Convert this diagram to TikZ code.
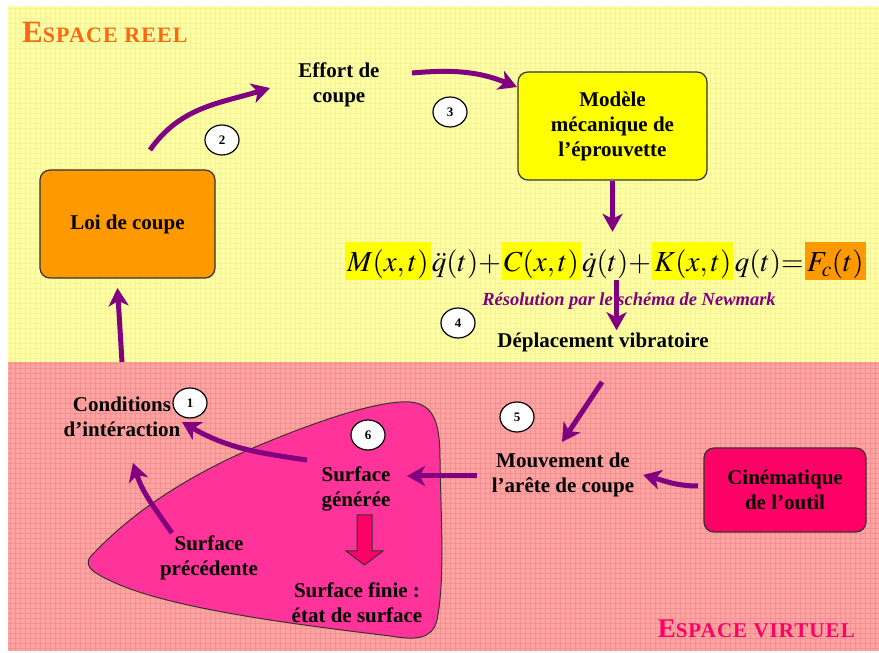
\documentclass[tikz,border=0pt]{standalone}
\usepackage{mathptmx}
\usepackage[no-math]{fontspec}
\setmainfont{Liberation Serif}
\newfontfamily\titlefont[LetterSpace=5]{Liberation Serif}
\usetikzlibrary{arrows.meta}
\usetikzlibrary{calc, shapes.geometric}
\definecolor{bgyellow}{HTML}{FFFFA6}
\definecolor{gridyellow}{HTML}{F4F496}
\definecolor{bgpink}{HTML}{FFA3A3}
\definecolor{gridpink}{HTML}{F28F8F}
\definecolor{arrowpurple}{HTML}{800080}
\definecolor{loiorange}{HTML}{FF9900}
\definecolor{modyellow}{HTML}{FFFF00}
\definecolor{cinepink}{HTML}{FF0066}
\definecolor{blobpink}{HTML}{FF3399}
\definecolor{boxborder}{HTML}{333333}
\definecolor{titleorange}{HTML}{FF6611}
\tikzset{
	myarrow/.style={draw=arrowpurple, line width=5pt, -{Stealth[length=18pt, width=20pt, inset=5pt]}},
	lbl/.style={font=\fontsize{21}{25}\selectfont\bfseries, align=center, inner sep=2pt},
	mybox/.style={lbl, draw=boxborder, line width=1.2pt, rounded corners=10pt},
	num/.style={ellipse, draw=black, fill=white, line width=1.2pt, minimum width=34pt, minimum height=30pt, inner sep=0pt, font=\fontsize{13}{13}\selectfont\bfseries},
	eqpart/.style={inner xsep=1pt, inner ysep=0pt, text height=30pt, text depth=8pt, font=\fontsize{29}{30}\selectfont, anchor=base west,
		execute at begin node={\medmuskip=0mu\relax\thickmuskip=0mu\relax}},
	eqhl/.style={eqpart, inner xsep=2pt, fill=#1}
}

\begin{document}
\begin{tikzpicture}[x=1pt, y=1pt]
	\useasboundingbox (0,0) rectangle (879,653);
	% espace reel / espace virtuel
	\fill[bgyellow] (8,291) rectangle (879,647);
	\draw[gridyellow, line width=0.4pt, step=5pt] (8,291) grid (879,647);
	\fill[bgpink] (8,2) rectangle (879,291);
	\draw[gridpink, line width=0.4pt, step=5pt] (8,2) grid (879,291);
	\node[anchor=base west, inner sep=0pt, text=titleorange] (treel) at (22,610)
		{\titlefont\bfseries\fontsize{31}{31}\selectfont E\fontsize{22}{22}\selectfont SPACE REEL};
	\node[anchor=base east, inner sep=0pt, text=cinepink] (tvirt) at (855,15)
		{\titlefont\bfseries\fontsize{27}{27}\selectfont E\fontsize{21}{21}\selectfont SPACE VIRTUEL};

	% surface
	\draw[boxborder, fill=blobpink, line width=1pt] (95,101)
		.. controls (140,148) and (200,183) .. (260,208)
		.. controls (320,233) and (380,253) .. (410,251)
		.. controls (435,249) and (440,228) .. (440,193)
		.. controls (441,133) and (445,73) .. (437,33)
		.. controls (432,13) and (415,13) .. (390,17)
		.. controls (300,28) and (180,43) .. (120,68)
		.. controls (90,81) and (80,88) .. cycle;
	\draw[boxborder, fill=cinepink, line width=1pt] (357,138) -- (372,138) -- (372,102) -- (383,102)
		-- (364.5,88) -- (346,102) -- (357,102) -- cycle;

	% blocs
	\node[mybox, fill=loiorange, minimum width=175pt, minimum height=108pt] (loi) at (127.5,429) {Loi de coupe};
	\node[lbl] (effort) at (339,568) {Effort de\\coupe};
	\node[mybox, fill=modyellow, minimum width=189pt, minimum height=108pt] (model) at (612.5,527) {Modèle\\mécanique de\\l’éprouvette};
	\node[mybox, fill=cinepink, minimum width=162pt, minimum height=84pt] (cine) at (785,163) {Cinématique\\de l’outil};
	\node[lbl] (depl) at (603,311) {Déplacement vibratoire};
	\node[lbl] (mouv) at (563,178) {Mouvement de\\l’arête de coupe};
	\node[lbl] (cond) at (122,236) {Conditions\\d’intéraction};
	\node[lbl] (surfgen) at (356,164) {Surface\\générée};
	\node[lbl] (surfprec) at (209,95) {Surface\\précédente};
	\node[lbl] (surffin) at (357,50) {Surface finie :\\état de surface};

	% equation
	\node[eqhl=modyellow] (eqM) at (345,381) {$M(x,t)$};
	\node[eqpart] (eqA) at (eqM.base east) {$\ddot{q}(t)+{}$};
	\node[eqhl=modyellow] (eqC) at (eqA.base east) {$C(x,t)$};
	\node[eqpart] (eqD) at (eqC.base east) {$\dot{q}(t)+{}$};
	\node[eqhl=modyellow] (eqK) at (eqD.base east) {$K(x,t)$};
	\node[eqpart] (eqQ) at (eqK.base east) {$q(t)={}$};
	\node[eqhl=loiorange] (eqF) at (eqQ.base east) {$F_{c}(t)$};
	\node[text=arrowpurple, font=\fontsize{18.5}{19}\selectfont\bfseries\itshape] (resol) at (629,352) {Résolution par le schéma de Newmark};

	% fleches
	\draw[myarrow] ($(cond)+(0,55)$) -- ($(loi)+(-10,-64)$);
	\draw[myarrow] ($(loi)+(22.5,74)$) to[out=55, in=197] ($(effort)+(-69,-3)$);
	\draw[myarrow] ($(effort)+(73,12)$) to[out=5, in=158] ($(model)+(-95.5,39)$);
	\draw[myarrow, shorten >=10pt] (model.south) -- (model.south |- eqD.north);
	\draw[myarrow] (eqD.south) -- (eqD.south |- depl.north);
	\draw[myarrow] ($(depl)+(-1,-40)$) -- ($(mouv)+(-1,33)$);
	\draw[myarrow] ($(cine)+(-87,4)$) to[out=180, in=-15] ($(mouv)+(80,0)$);
	\draw[myarrow] ($(mouv)+(-86,-1)$) -- ($(surfgen)+(51,13)$);
	\draw[myarrow] ($(surfgen)+(-49,29)$) to[out=172, in=-30] ($(cond)+(60,-5)$);
	\draw[myarrow] ($(surfprec)+(-37,25)$) to[out=125, in=-72] ($(cond)+(11,-46)$);

	% etapes
	\node[num] (n1) at (190,250) {1};
	\node[num] (n2) at (222,513) {2};
	\node[num] (n3) at (450,541) {3};
	\node[num] (n4) at (458,330) {4};
	\node[num] (n5) at (517,236) {5};
	\node[num] (n6) at (368,218) {6};
\end{tikzpicture}
\end{document}
